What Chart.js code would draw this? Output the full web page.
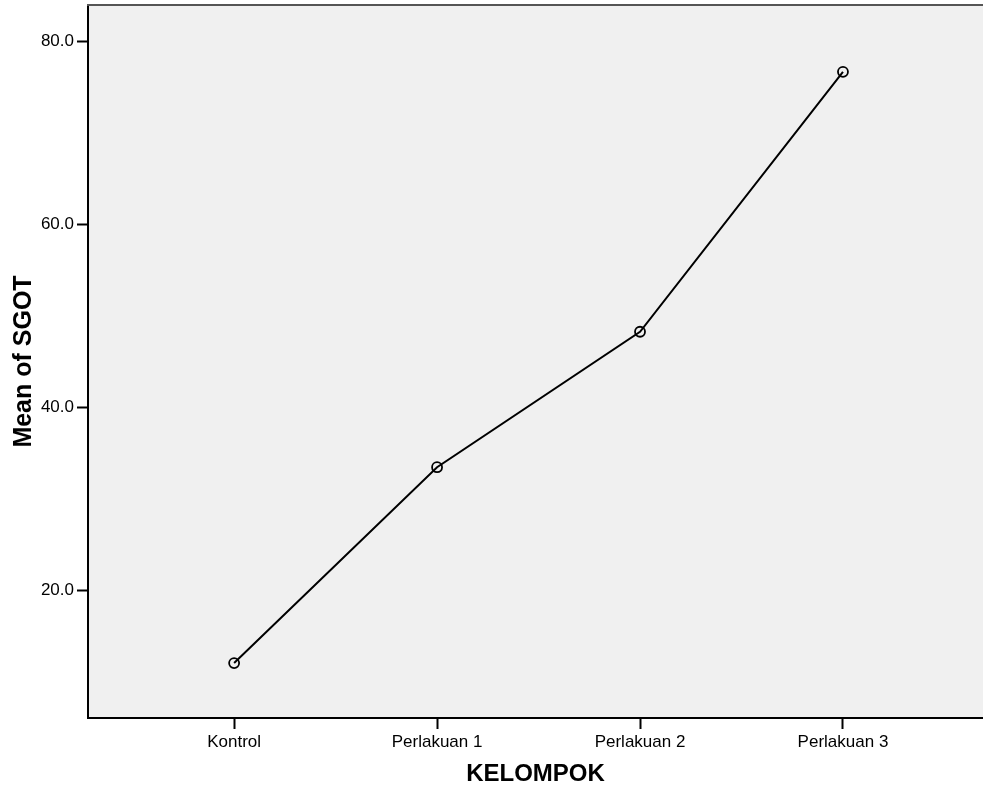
<!DOCTYPE html>
<html>
<head>
<meta charset="utf-8">
<script src="https://cdn.jsdelivr.net/npm/chart.js@4/dist/chart.umd.min.js"></script>
<style>
  html, body { margin: 0; padding: 0; background: #fff; overflow: hidden; }
  #wrap { width: 983px; height: 791px; }
  canvas { display: block; }
</style>
</head>
<body>
<div id="wrap"><canvas id="myChart" width="983" height="791"></canvas></div>
<script>
var categories = ['Kontrol', 'Perlakuan 1', 'Perlakuan 2', 'Perlakuan 3'];
var meanSgot = [12.1, 33.5, 48.3, 76.7];
var yTicks = [20, 40, 60, 80];

var areaPlugin = {
    id: 'areaPlugin',
    beforeDraw: function(chart){
        var a = chart.chartArea, ctx = chart.ctx;
        ctx.save();
        ctx.fillStyle = '#f0f0f0';
        ctx.fillRect(a.left, a.top, a.right - a.left, a.bottom - a.top);
        ctx.restore();
    },
    afterDraw: function(chart){
        var a = chart.ctx, c = chart.chartArea;
        a.save();
        a.strokeStyle = '#555';
        a.lineWidth = 2;
        a.beginPath();
        a.moveTo(c.left - 1, c.top);
        a.lineTo(c.right, c.top);
        a.stroke();
        a.restore();
    }
};

var ctx = document.getElementById('myChart').getContext('2d');
Chart.defaults.font.family = '"Liberation Sans", Arial, sans-serif';
Chart.defaults.color = '#000';

var myChart = new Chart(ctx, {
    type: 'line',
    data: {
        datasets: [{
            label: 'Mean of SGOT',
            data: meanSgot.map(function(v, i){ return {x: i, y: v}; }),
            borderColor: '#000',
            borderWidth: 2,
            pointRadius: 5,
            pointBorderWidth: 1.8,
            pointBorderColor: '#000',
            pointBackgroundColor: 'rgba(0,0,0,0)',
            tension: 0,
            fill: false
        }]
    },
    options: {
        responsive: false,
        animation: false,
        layout: { autoPadding: false, padding: { top: 5, right: 0, left: 0, bottom: 0 } },
        plugins: {
            legend: { display: false },
            tooltip: { enabled: false }
        },
        scales: {
            x: {
                type: 'linear',
                min: -0.72,
                max: 3.69,
                afterBuildTicks: function(scale){
                    scale.ticks = categories.map(function(c, i){ return {value: i}; });
                },
                afterFit: function(scale){
                    scale.height = 73;
                    scale.paddingLeft = 0;
                    scale.paddingRight = 0;
                },
                ticks: {
                    font: { size: 17 },
                    padding: 3,
                    maxRotation: 0,
                    callback: function(v){ return categories[v]; }
                },
                grid: {
                    drawOnChartArea: false,
                    drawTicks: true,
                    tickLength: 11,
                    tickWidth: 2,
                    tickColor: '#000'
                },
                border: { display: true, color: '#000', width: 2 },
                title: {
                    display: true,
                    text: 'KELOMPOK',
                    font: { size: 24, weight: 'bold' },
                    padding: { top: 4, bottom: 2 }
                }
            },
            y: {
                min: 6.1,
                max: 84,
                afterBuildTicks: function(scale){
                    scale.ticks = yTicks.map(function(v){ return {value: v}; });
                },
                afterFit: function(scale){
                    scale.width = 88;
                    scale.paddingTop = 0;
                    scale.paddingBottom = 0;
                },
                ticks: {
                    font: { size: 17 },
                    padding: 3,
                    callback: function(v){ return v.toFixed(1); }
                },
                grid: {
                    drawOnChartArea: false,
                    drawTicks: true,
                    tickLength: 11,
                    tickWidth: 2,
                    tickColor: '#000'
                },
                border: { display: true, color: '#000', width: 2 },
                title: {
                    display: true,
                    text: 'Mean of SGOT',
                    font: { size: 25, weight: 'bold' },
                    padding: { top: 9, bottom: 4 }
                }
            }
        }
    },
    plugins: [areaPlugin]
});
</script>
</body>
</html>
